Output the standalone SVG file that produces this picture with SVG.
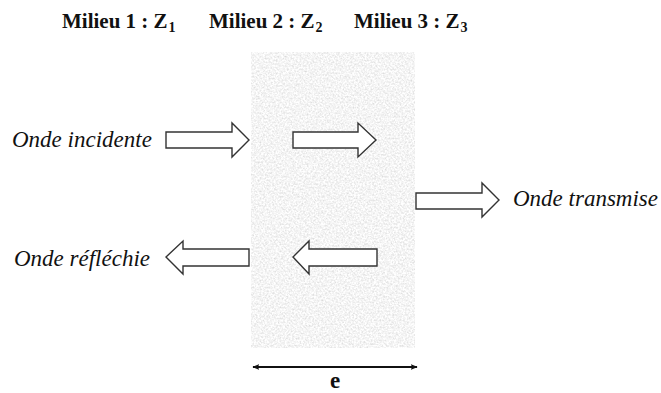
<svg xmlns="http://www.w3.org/2000/svg" width="661" height="393" viewBox="0 0 661 393">
<defs>
<filter id="noise" x="0" y="0" width="100%" height="100%">
<feTurbulence type="fractalNoise" baseFrequency="0.55" numOctaves="3" seed="7" result="t"/>
<feColorMatrix in="t" type="matrix" values="0.5 0 0 0 0.66  0.5 0 0 0 0.66  0.5 0 0 0 0.66  0 0 0 0 1" result="g"/>
<feComposite in="g" in2="SourceGraphic" operator="in"/>
</filter>
<marker id="ah" viewBox="0 0 10 10" refX="9" refY="5" markerWidth="7" markerHeight="7" orient="auto-start-reverse" markerUnits="userSpaceOnUse">
<path d="M0,1 L10,5 L0,9 L2,5 Z" fill="#111"/>
</marker>
</defs>
<style>
.arr{fill:#fff;stroke:#333;stroke-width:1.4;stroke-linejoin:miter}
</style>
<rect width="661" height="393" fill="#fff"/>
<g id="milieu2-slab">
<rect x="251" y="52" width="164" height="296" fill="#ececec" filter="url(#noise)"/>
</g>
<g id="titles" font-family="Liberation Serif, Times New Roman, serif" font-weight="bold" font-size="21" fill="#111">
<text x="62" y="28">Milieu 1 : Z<tspan font-size="14" dx="1" dy="4">1</tspan></text>
<text x="209" y="28">Milieu 2 : Z<tspan font-size="14" dx="1" dy="4">2</tspan></text>
<text x="354" y="28">Milieu 3 : Z<tspan font-size="14" dx="1" dy="4">3</tspan></text>
</g>
<g font-family="Liberation Serif, Times New Roman, serif" font-style="italic" font-size="23" fill="#111">
<g id="incidente">
<text x="12" y="147">Onde incidente</text>
<path class="arr" d="M166,132 H232 V123 L249,140 L232,157 V148 H166 Z"/>
</g>
<g id="incidente-interne">
<path class="arr" d="M293,132 H358 V123 L376,140 L358,157 V148 H293 Z"/>
</g>
<g id="reflechie">
<text x="14" y="266">Onde réfléchie</text>
<path class="arr" d="M249,249 H183 V241 L166,257 L183,274 V266 H249 Z"/>
</g>
<g id="reflechie-interne">
<path class="arr" d="M377,249 H309 V241 L293,257 L309,274 V266 H377 Z"/>
</g>
<g id="transmise">
<path class="arr" d="M416,193 H482 V183 L499,200 L482,217 V209 H416 Z"/>
<text x="513" y="206">Onde transmise</text>
</g>
</g>
<g id="connectors">
<line x1="253" y1="367" x2="417" y2="367" stroke="#111" stroke-width="2" marker-start="url(#ah)" marker-end="url(#ah)"/>
</g>
<g id="epaisseur">
<text x="335" y="388" text-anchor="middle" font-family="Liberation Serif, Times New Roman, serif" font-weight="bold" font-size="23" fill="#111">e</text>
</g>
</svg>
